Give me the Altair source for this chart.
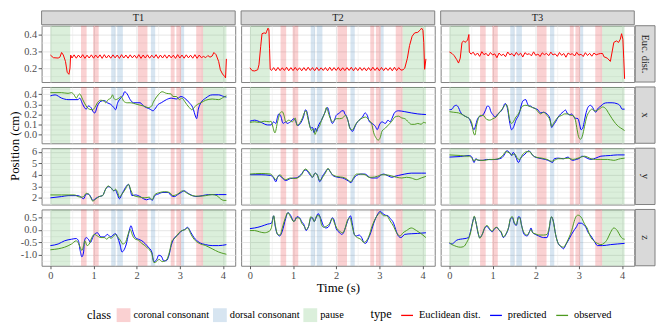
import altair as alt
import pandas as pd

FONT = "Liberation Serif"
W, H = 196, 57

TOKENS = ["T1", "T2", "T3"]
ROW_LABELS = ["Euc. dist.", "x", "y", "z"]
ROW_VARS = ["euc", "x", "y", "z"]

CLASSES = ["coronal consonant", "dorsal consonant", "pause"]
CLASS_COLORS = ["#E41A1C", "#377EB8", "#4DAF4A"]
TYPES = ["Euclidean dist.", "predicted", "observed"]
TYPE_COLORS = ["#FF0000", "#0000FF", "#4D9A1F"]

# phone-class intervals (s)
SEG_CLASS = ["pause", "coronal consonant", "coronal consonant", "dorsal consonant",
             "dorsal consonant", "coronal consonant", "dorsal consonant",
             "coronal consonant", "coronal consonant", "dorsal consonant",
             "coronal consonant", "pause"]
SEG_START = [0.00, 0.71, 0.99, 1.41, 1.55, 2.03, 2.33, 2.79, 2.92, 3.03, 3.38, 3.54]
SEG_END = [0.46, 0.84, 1.12, 1.51, 1.68, 2.25, 2.43, 2.88, 3.03, 3.10, 3.54, 4.08]
TOKEN_END = {"T1": 4.08, "T2": 4.08, "T3": 4.06}

# axis breaks
X_DOMAIN = [-0.204, 4.284]
X_MAJOR = [0, 1, 2, 3, 4]
X_MINOR = [0.5, 1.5, 2.5, 3.5]
Y_DOMAINS = [[0.117, 0.4525], [-0.084, 0.472], [1.42, 6.30], [-1.45, 0.82]]
Y_MAJOR = [[0.2, 0.3, 0.4], [0.0, 0.1, 0.2, 0.3, 0.4], [2, 3, 4, 5, 6], [-1.0, -0.5, 0.0, 0.5]]
Y_MINOR = [[0.15, 0.25, 0.35, 0.45], [-0.05, 0.05, 0.15, 0.25, 0.35, 0.45],
           [1.5, 2.5, 3.5, 4.5, 5.5], [-1.25, -0.75, -0.25, 0.25, 0.75]]
Y_FMT = [".1f", ".1f", "d", ".1f"]

# ---------------- Euclidean distance ----------------
MID_T = [0.50, 0.55, 0.60, 0.65, 0.70, 0.75, 0.80, 0.85, 0.90, 0.95,
         1.00, 1.05, 1.10, 1.15, 1.20, 1.25, 1.30, 1.35, 1.40, 1.45,
         1.50, 1.55, 1.60, 1.65, 1.70, 1.75, 1.80, 1.85, 1.90, 1.95,
         2.00, 2.05, 2.10, 2.15, 2.20, 2.25, 2.30, 2.35, 2.40, 2.45,
         2.50, 2.55, 2.60, 2.65, 2.70, 2.75, 2.80, 2.85, 2.90, 2.95,
         3.00, 3.05, 3.10, 3.15, 3.20, 3.25, 3.30, 3.35, 3.40, 3.45,
         3.50]

T1_EUC_START = [(0.00, 0.278), (0.07, 0.262), (0.18, 0.260), (0.22, 0.265), (0.26, 0.293),
                (0.30, 0.278), (0.35, 0.240), (0.39, 0.175), (0.43, 0.163), (0.455, 0.200),
                (0.47, 0.278)]
T1_EUC_MID = [0.260, 0.279, 0.259, 0.278, 0.261, 0.280, 0.258, 0.277, 0.260, 0.279,
              0.259, 0.278, 0.261, 0.279, 0.258, 0.280, 0.260, 0.277, 0.259, 0.279,
              0.261, 0.278, 0.258, 0.280, 0.260, 0.278, 0.259, 0.279, 0.261, 0.277,
              0.259, 0.280, 0.258, 0.278, 0.260, 0.279, 0.259, 0.277, 0.261, 0.280,
              0.258, 0.278, 0.260, 0.279, 0.259, 0.278, 0.261, 0.277, 0.258, 0.280,
              0.260, 0.278, 0.259, 0.279, 0.261, 0.277, 0.259, 0.280, 0.258, 0.278,
              0.262]
T1_EUC_END = [(3.55, 0.270), (3.60, 0.262), (3.65, 0.275), (3.70, 0.265), (3.75, 0.272),
              (3.79, 0.293), (3.84, 0.280), (3.90, 0.240), (3.94, 0.190), (3.99, 0.165),
              (4.04, 0.150), (4.06, 0.142), (4.08, 0.255)]

T2_EUC_START = [(0.00, 0.202), (0.05, 0.185), (0.11, 0.183), (0.18, 0.190), (0.21, 0.220),
                (0.25, 0.330), (0.28, 0.405), (0.33, 0.410), (0.37, 0.406), (0.39, 0.420),
                (0.42, 0.438), (0.44, 0.428), (0.455, 0.315), (0.47, 0.193)]
T2_EUC_MID = [0.186, 0.203, 0.184, 0.204, 0.185, 0.202, 0.186, 0.205, 0.184, 0.203,
              0.185, 0.204, 0.186, 0.202, 0.184, 0.203, 0.185, 0.205, 0.186, 0.203,
              0.184, 0.204, 0.185, 0.202, 0.186, 0.203, 0.184, 0.205, 0.185, 0.203,
              0.186, 0.204, 0.184, 0.202, 0.185, 0.203, 0.186, 0.205, 0.184, 0.203,
              0.185, 0.204, 0.186, 0.202, 0.184, 0.203, 0.185, 0.205, 0.186, 0.203,
              0.184, 0.204, 0.185, 0.202, 0.186, 0.203, 0.184, 0.205, 0.185, 0.203,
              0.188]
T2_EUC_END = [(3.55, 0.190), (3.59, 0.200), (3.65, 0.259), (3.70, 0.334), (3.76, 0.390),
              (3.82, 0.410), (3.89, 0.413), (3.95, 0.428), (3.98, 0.438), (4.01, 0.425),
              (4.03, 0.353), (4.05, 0.193), (4.08, 0.255)]

T3_EUC_START = [(0.00, 0.296), (0.06, 0.287), (0.11, 0.274), (0.17, 0.250), (0.21, 0.230),
                (0.25, 0.259), (0.29, 0.353), (0.33, 0.362), (0.36, 0.353), (0.40, 0.362),
                (0.42, 0.366), (0.45, 0.400), (0.46, 0.296)]
T3_EUC_MID = [0.283, 0.295, 0.276, 0.290, 0.270, 0.298, 0.280, 0.288, 0.272, 0.293,
              0.278, 0.285, 0.262, 0.290, 0.275, 0.283, 0.268, 0.296, 0.279, 0.287,
              0.271, 0.294, 0.277, 0.289, 0.266, 0.292, 0.281, 0.286, 0.273, 0.297,
              0.276, 0.284, 0.269, 0.291, 0.280, 0.288, 0.274, 0.295, 0.278, 0.285,
              0.270, 0.293, 0.276, 0.287, 0.265, 0.290, 0.281, 0.286, 0.272, 0.294,
              0.277, 0.283, 0.269, 0.292, 0.275, 0.288, 0.271, 0.290, 0.279, 0.284,
              0.287]
T3_EUC_END = [(3.55, 0.287), (3.58, 0.268), (3.66, 0.259), (3.73, 0.240), (3.77, 0.296),
              (3.81, 0.353), (3.87, 0.362), (3.92, 0.353), (3.96, 0.372), (3.99, 0.405),
              (4.02, 0.372), (4.04, 0.259), (4.06, 0.136)]

# ---------------- x ----------------
T1_X_PRED = [(0.00, 0.384), (0.11, 0.394), (0.26, 0.362), (0.41, 0.347), (0.64, 0.347), (0.68, 0.362),
             (0.75, 0.300), (0.83, 0.253), (0.88, 0.284), (0.94, 0.269), (1.00, 0.222), (1.03, 0.216),
             (1.09, 0.284), (1.17, 0.331), (1.25, 0.338), (1.32, 0.316), (1.40, 0.300), (1.47, 0.269),
             (1.51, 0.247), (1.56, 0.316), (1.63, 0.362), (1.69, 0.394), (1.72, 0.425), (1.78, 0.403),
             (1.85, 0.347), (1.93, 0.316), (2.08, 0.316), (2.16, 0.284), (2.31, 0.253), (2.38, 0.237),
             (2.42, 0.253), (2.50, 0.300), (2.57, 0.316), (2.69, 0.347), (2.80, 0.362), (2.92, 0.353),
             (3.03, 0.378), (3.11, 0.362), (3.22, 0.316), (3.30, 0.269), (3.37, 0.175), (3.39, 0.159),
             (3.43, 0.253), (3.49, 0.316), (3.60, 0.362), (3.75, 0.394), (3.90, 0.394), (4.02, 0.378),
             (4.08, 0.372)]
T1_X_OBS = [(0.00, 0.416), (0.26, 0.416), (0.41, 0.409), (0.49, 0.416), (0.55, 0.394), (0.60, 0.362),
            (0.65, 0.394), (0.68, 0.403), (0.75, 0.347), (0.83, 0.284), (0.90, 0.253), (0.98, 0.247),
            (1.03, 0.269), (1.09, 0.316), (1.17, 0.341), (1.25, 0.331), (1.28, 0.316), (1.34, 0.347),
            (1.40, 0.362), (1.44, 0.394), (1.47, 0.362), (1.51, 0.347), (1.59, 0.362), (1.64, 0.378),
            (1.70, 0.331), (1.78, 0.316), (1.85, 0.316), (2.01, 0.300), (2.16, 0.284), (2.27, 0.269),
            (2.35, 0.284), (2.38, 0.316), (2.42, 0.347), (2.50, 0.394), (2.59, 0.425), (2.69, 0.409),
            (2.80, 0.403), (2.84, 0.378), (2.92, 0.378), (2.99, 0.347), (3.05, 0.362), (3.11, 0.331),
            (3.16, 0.300), (3.22, 0.269), (3.28, 0.247), (3.33, 0.269), (3.41, 0.300), (3.49, 0.316),
            (3.60, 0.341), (3.75, 0.353), (3.90, 0.347), (4.02, 0.372), (4.08, 0.384)]
T2_X_PRED = [(0.00, 0.134), (0.11, 0.144), (0.26, 0.122), (0.41, 0.097), (0.49, 0.097), (0.55, 0.128),
             (0.60, 0.112), (0.64, 0.175), (0.67, 0.206), (0.71, 0.191), (0.77, 0.112), (0.83, 0.128),
             (0.86, 0.112), (0.94, 0.128), (1.02, 0.159), (1.05, 0.144), (1.11, 0.091), (1.17, 0.112),
             (1.24, 0.175), (1.29, 0.247), (1.32, 0.228), (1.36, 0.144), (1.41, 0.066), (1.45, 0.072),
             (1.49, 0.019), (1.52, 0.066), (1.55, 0.034), (1.58, 0.081), (1.66, 0.144), (1.74, 0.222),
             (1.80, 0.269), (1.85, 0.191), (1.91, 0.112), (1.96, 0.144), (2.00, 0.191), (2.08, 0.216),
             (2.13, 0.237), (2.17, 0.237), (2.20, 0.206), (2.23, 0.191), (2.27, 0.144), (2.32, 0.066),
             (2.38, 0.034), (2.42, 0.066), (2.47, 0.112), (2.53, 0.144), (2.61, 0.175), (2.67, 0.216),
             (2.72, 0.191), (2.77, 0.128), (2.83, 0.112), (2.91, 0.081), (2.95, 0.050), (3.00, 0.097),
             (3.06, 0.128), (3.14, 0.112), (3.20, 0.144), (3.25, 0.128), (3.29, 0.159), (3.36, 0.222),
             (3.44, 0.237), (3.59, 0.228), (3.74, 0.216), (3.89, 0.206), (4.08, 0.200)]
T2_X_OBS = [(0.00, 0.122), (0.11, 0.128), (0.22, 0.122), (0.33, 0.134), (0.45, 0.128), (0.49, 0.134),
            (0.52, 0.097), (0.58, 0.019), (0.64, 0.128), (0.71, 0.222), (0.75, 0.228), (0.79, 0.191),
            (0.83, 0.128), (0.90, 0.144), (0.98, 0.128), (1.02, 0.144), (1.05, 0.166), (1.09, 0.091),
            (1.13, 0.103), (1.21, 0.159), (1.26, 0.216), (1.30, 0.237), (1.33, 0.191), (1.38, 0.097),
            (1.43, 0.041), (1.47, 0.059), (1.51, 0.003), (1.55, 0.050), (1.61, 0.081), (1.66, 0.144),
            (1.74, 0.222), (1.77, 0.269), (1.85, 0.175), (1.91, 0.128), (1.96, 0.144), (2.00, 0.159),
            (2.08, 0.159), (2.15, 0.166), (2.21, 0.191), (2.27, 0.144), (2.32, 0.059), (2.38, 0.050),
            (2.45, 0.103), (2.53, 0.144), (2.61, 0.166), (2.68, 0.175), (2.76, 0.144), (2.82, 0.112),
            (2.87, 0.019), (2.92, -0.028), (2.97, -0.053), (3.02, -0.028), (3.06, 0.034), (3.14, 0.066),
            (3.21, 0.097), (3.29, 0.134), (3.36, 0.175), (3.44, 0.184), (3.52, 0.166), (3.59, 0.159),
            (3.67, 0.128), (3.74, 0.103), (3.82, 0.103), (3.89, 0.112), (3.97, 0.103), (4.02, 0.122),
            (4.08, 0.116)]
T3_X_PRED = [(0.00, 0.247), (0.06, 0.253), (0.11, 0.284), (0.16, 0.291), (0.21, 0.269), (0.25, 0.228),
             (0.33, 0.191), (0.40, 0.175), (0.46, 0.159), (0.49, 0.128), (0.53, 0.081), (0.57, 0.050),
             (0.61, 0.097), (0.64, 0.144), (0.68, 0.175), (0.72, 0.184), (0.78, 0.197), (0.83, 0.237),
             (0.88, 0.284), (0.92, 0.278), (0.96, 0.228), (1.01, 0.197), (1.06, 0.175), (1.12, 0.206),
             (1.17, 0.222), (1.23, 0.253), (1.29, 0.309), (1.33, 0.284), (1.36, 0.222), (1.40, 0.112),
             (1.44, 0.050), (1.49, 0.081), (1.54, 0.144), (1.60, 0.191), (1.63, 0.228), (1.66, 0.284),
             (1.71, 0.338), (1.77, 0.347), (1.80, 0.316), (1.84, 0.284), (1.88, 0.284), (1.93, 0.269),
             (1.99, 0.259), (2.05, 0.247), (2.11, 0.216), (2.18, 0.222), (2.26, 0.206), (2.33, 0.159),
             (2.37, 0.072), (2.41, 0.097), (2.46, 0.128), (2.52, 0.175), (2.58, 0.206), (2.64, 0.228),
             (2.69, 0.244), (2.74, 0.206), (2.79, 0.197), (2.83, 0.206), (2.86, 0.191), (2.90, 0.166),
             (2.98, 0.159), (3.02, 0.097), (3.05, 0.050), (3.09, 0.066), (3.13, 0.144), (3.17, 0.222),
             (3.22, 0.278), (3.27, 0.291), (3.32, 0.269), (3.36, 0.237), (3.39, 0.222), (3.43, 0.253),
             (3.51, 0.284), (3.58, 0.309), (3.66, 0.316), (3.77, 0.316), (3.89, 0.306), (3.96, 0.284),
             (4.00, 0.253), (4.06, 0.253)]
T3_X_OBS = [(0.00, 0.228), (0.10, 0.222), (0.21, 0.216), (0.33, 0.191), (0.40, 0.175), (0.46, 0.159),
            (0.52, 0.112), (0.55, 0.034), (0.59, -0.003), (0.63, 0.097), (0.67, 0.159), (0.71, 0.191),
            (0.78, 0.191), (0.86, 0.153), (0.93, 0.144), (1.01, 0.159), (1.08, 0.175), (1.16, 0.222),
            (1.22, 0.253), (1.27, 0.284), (1.31, 0.300), (1.35, 0.269), (1.39, 0.159), (1.44, 0.112),
            (1.48, 0.128), (1.54, 0.175), (1.60, 0.206), (1.65, 0.253), (1.70, 0.284), (1.77, 0.291),
            (1.84, 0.284), (1.92, 0.269), (1.99, 0.259), (2.05, 0.228), (2.11, 0.206), (2.18, 0.222),
            (2.26, 0.191), (2.33, 0.144), (2.37, 0.081), (2.41, 0.112), (2.46, 0.144), (2.52, 0.175),
            (2.60, 0.191), (2.67, 0.206), (2.75, 0.206), (2.81, 0.191), (2.86, 0.191), (2.92, 0.144),
            (2.96, 0.050), (3.00, -0.028), (3.04, -0.044), (3.08, -0.013), (3.13, 0.081), (3.18, 0.175),
            (3.24, 0.228), (3.30, 0.253), (3.36, 0.237), (3.39, 0.237), (3.47, 0.253), (3.55, 0.275),
            (3.62, 0.259), (3.70, 0.206), (3.77, 0.159), (3.85, 0.112), (3.92, 0.081), (4.00, 0.059),
            (4.06, 0.041)]

# ---------------- y ----------------
T1_Y_PRED = [(0.00, 2.00), (0.26, 2.11), (0.41, 2.19), (0.64, 2.19), (0.71, 2.06), (0.77, 1.92),
             (0.83, 2.33), (0.88, 2.33), (0.94, 2.06), (0.98, 1.78), (1.06, 1.97), (1.13, 2.11),
             (1.21, 2.19), (1.28, 2.75), (1.34, 2.97), (1.40, 2.89), (1.47, 2.61), (1.51, 2.67),
             (1.55, 2.33), (1.60, 1.92), (1.66, 2.33), (1.74, 2.89), (1.81, 3.17), (1.85, 2.75),
             (1.89, 2.19), (1.97, 2.25), (2.08, 2.11), (2.16, 1.92), (2.23, 1.83), (2.31, 1.92),
             (2.36, 1.78), (2.42, 2.19), (2.50, 2.33), (2.61, 2.47), (2.73, 2.47), (2.80, 2.19),
             (2.88, 2.11), (2.95, 2.28), (3.03, 2.47), (3.11, 2.61), (3.16, 2.47), (3.26, 2.25),
             (3.37, 2.11), (3.52, 2.19), (3.67, 2.28), (3.90, 2.28), (4.08, 2.28)]
T1_Y_OBS = [(0.00, 2.25), (0.26, 2.25), (0.41, 2.25), (0.56, 2.25), (0.64, 2.11), (0.71, 2.06),
            (0.77, 2.11), (0.83, 2.39), (0.88, 2.33), (0.94, 2.00), (0.98, 1.72), (1.06, 1.92),
            (1.13, 2.11), (1.21, 2.19), (1.28, 2.75), (1.34, 3.03), (1.40, 2.89), (1.47, 2.61),
            (1.51, 2.75), (1.56, 2.47), (1.60, 2.06), (1.66, 2.33), (1.74, 2.75), (1.81, 3.17),
            (1.87, 2.61), (1.93, 2.19), (2.08, 2.06), (2.19, 2.00), (2.29, 2.06), (2.36, 1.83),
            (2.42, 2.28), (2.54, 2.47), (2.65, 2.53), (2.76, 2.47), (2.84, 2.19), (2.95, 2.33),
            (3.07, 2.61), (3.14, 2.47), (3.29, 2.19), (3.44, 2.14), (3.60, 2.19), (3.75, 2.28),
            (3.86, 2.19), (3.94, 1.92), (4.02, 1.78), (4.08, 1.78)]
T2_Y_PRED = [(0.00, 4.00), (0.26, 4.00), (0.48, 3.94), (0.55, 3.72), (0.60, 3.39), (0.64, 3.78),
             (0.67, 3.94), (0.75, 3.72), (0.83, 3.50), (0.94, 3.67), (1.05, 3.72), (1.11, 3.78),
             (1.18, 4.00), (1.28, 4.42), (1.33, 4.33), (1.39, 4.00), (1.45, 3.78), (1.51, 4.14),
             (1.56, 4.00), (1.62, 3.39), (1.68, 3.86), (1.73, 4.14), (1.81, 4.50), (1.86, 4.28),
             (1.92, 3.94), (2.04, 3.78), (2.15, 3.72), (2.23, 3.58), (2.29, 3.44), (2.34, 3.31),
             (2.39, 3.58), (2.47, 3.94), (2.57, 4.06), (2.67, 4.06), (2.72, 3.94), (2.77, 3.78),
             (2.83, 3.72), (2.95, 3.72), (3.02, 3.94), (3.10, 4.06), (3.15, 4.00), (3.21, 3.89),
             (3.29, 3.78), (3.36, 3.86), (3.44, 3.94), (3.59, 4.06), (3.74, 4.14), (3.97, 4.14),
             (4.08, 4.14)]
T2_Y_OBS = [(0.00, 4.06), (0.26, 4.11), (0.48, 4.06), (0.55, 3.78), (0.60, 3.58), (0.64, 3.78),
            (0.70, 4.00), (0.75, 3.78), (0.83, 3.58), (0.94, 3.72), (1.05, 3.67), (1.13, 3.78),
            (1.20, 4.00), (1.28, 4.50), (1.36, 4.28), (1.41, 4.00), (1.45, 3.78), (1.51, 4.14),
            (1.56, 4.00), (1.62, 3.50), (1.70, 3.86), (1.76, 4.22), (1.81, 4.56), (1.87, 4.22),
            (1.92, 4.00), (2.04, 3.83), (2.15, 3.78), (2.23, 3.67), (2.29, 3.50), (2.34, 3.39),
            (2.39, 3.67), (2.47, 4.06), (2.57, 4.06), (2.67, 4.00), (2.76, 3.78), (2.83, 3.78),
            (2.95, 3.86), (3.05, 4.00), (3.14, 4.00), (3.29, 3.89), (3.40, 3.78), (3.52, 3.72),
            (3.63, 3.78), (3.74, 3.72), (3.86, 3.58), (3.97, 3.72), (4.08, 3.86)]
T3_Y_PRED = [(0.00, 5.53), (0.25, 5.58), (0.46, 5.67), (0.52, 5.53), (0.57, 5.06), (0.61, 5.39),
             (0.67, 5.25), (0.78, 5.25), (0.86, 5.33), (0.97, 5.31), (1.08, 5.33), (1.20, 5.44),
             (1.27, 5.72), (1.33, 6.08), (1.39, 5.94), (1.44, 5.67), (1.48, 5.94), (1.54, 5.53),
             (1.60, 5.06), (1.65, 5.44), (1.73, 5.72), (1.79, 5.94), (1.84, 6.08), (1.89, 5.89),
             (1.95, 5.61), (2.07, 5.44), (2.22, 5.33), (2.33, 5.17), (2.39, 5.06), (2.43, 5.39),
             (2.52, 5.44), (2.64, 5.39), (2.75, 5.53), (2.81, 5.33), (2.86, 5.25), (2.94, 5.33),
             (3.02, 5.44), (3.07, 5.61), (3.13, 5.56), (3.19, 5.44), (3.28, 5.33), (3.39, 5.44),
             (3.51, 5.61), (3.73, 5.67), (3.89, 5.72), (4.06, 5.72)]
T3_Y_OBS = [(0.00, 5.72), (0.25, 5.67), (0.40, 5.61), (0.46, 5.61), (0.52, 5.44), (0.57, 5.17),
            (0.61, 5.33), (0.70, 5.25), (0.82, 5.25), (0.93, 5.33), (1.05, 5.33), (1.16, 5.44),
            (1.235, 5.67), (1.31, 6.00), (1.39, 5.89), (1.46, 5.72), (1.51, 5.81), (1.58, 5.39),
            (1.63, 5.33), (1.69, 5.72), (1.80, 6.00), (1.86, 6.00), (1.92, 5.72), (2.03, 5.50),
            (2.14, 5.44), (2.26, 5.33), (2.37, 5.17), (2.43, 5.25), (2.52, 5.39), (2.64, 5.39),
            (2.75, 5.44), (2.86, 5.33), (2.98, 5.44), (3.05, 5.53), (3.13, 5.61), (3.20, 5.53),
            (3.28, 5.39), (3.39, 5.33), (3.51, 5.33), (3.66, 5.33), (3.81, 5.25), (3.96, 5.39),
            (4.06, 5.44)]

# ---------------- z ----------------
T1_Z_PRED = [(0.00, -0.637), (0.18, -0.572), (0.33, -0.443), (0.49, -0.379), (0.60, -0.353), (0.65, -0.443),
             (0.69, -0.831), (0.73, -1.089), (0.77, -0.895), (0.79, -0.443), (0.83, -0.314), (0.88, -0.379),
             (0.93, -0.508), (0.98, -0.314), (1.02, -0.185), (1.09, -0.120), (1.17, -0.288), (1.25, -0.288),
             (1.32, -0.185), (1.40, -0.288), (1.47, -0.185), (1.51, -0.159), (1.56, -0.314), (1.61, -0.572),
             (1.66, -0.895), (1.70, -0.831), (1.76, -0.572), (1.81, -0.185), (1.87, 0.164), (1.91, -0.056),
             (1.97, -0.314), (2.04, -0.379), (2.12, -0.443), (2.19, -0.547), (2.27, -0.702), (2.35, -0.895),
             (2.40, -1.283), (2.46, -1.218), (2.51, -1.025), (2.57, -1.063), (2.63, -1.257), (2.69, -1.244),
             (2.75, -1.025), (2.80, -0.637), (2.88, -0.314), (2.95, -0.211), (3.03, -0.056), (3.11, 0.009),
             (3.18, 0.100), (3.26, -0.120), (3.33, -0.314), (3.45, -0.508), (3.60, -0.598), (3.75, -0.637),
             (3.90, -0.637), (4.08, -0.598)]
T1_Z_OBS = [(0.00, -0.805), (0.18, -0.766), (0.33, -0.702), (0.49, -0.572), (0.60, -0.443), (0.65, -0.547),
            (0.69, -0.702), (0.73, -0.831), (0.77, -0.637), (0.80, -0.443), (0.85, -0.637), (0.90, -0.572),
            (0.96, -0.314), (1.02, -0.185), (1.09, -0.249), (1.17, -0.314), (1.25, -0.314), (1.31, -0.379),
            (1.36, -0.288), (1.40, -0.340), (1.47, -0.249), (1.51, -0.185), (1.56, -0.288), (1.62, -0.417),
            (1.68, -0.572), (1.74, -0.508), (1.79, -0.249), (1.85, 0.009), (1.91, -0.249), (1.97, -0.379),
            (2.04, -0.417), (2.12, -0.547), (2.19, -0.637), (2.27, -0.766), (2.35, -0.960), (2.40, -1.322),
            (2.46, -1.283), (2.52, -1.192), (2.59, -1.283), (2.69, -1.218), (2.76, -0.895), (2.82, -0.443),
            (2.90, -0.314), (2.98, -0.120), (3.05, -0.030), (3.13, 0.009), (3.18, 0.074), (3.26, -0.185),
            (3.33, -0.379), (3.45, -0.547), (3.60, -0.637), (3.75, -0.766), (3.90, -0.895), (4.02, -0.960),
            (4.08, -0.986)]
T2_Z_PRED = [(0.00, 0.048), (0.11, 0.074), (0.26, 0.138), (0.41, 0.229), (0.50, 0.267), (0.55, 0.565),
             (0.58, 0.203), (0.64, -0.185), (0.69, -0.249), (0.75, -0.056), (0.83, 0.461), (0.88, 0.694),
             (0.94, 0.590), (1.02, 0.332), (1.09, 0.526), (1.15, 0.487), (1.20, 0.332), (1.26, 0.177),
             (1.30, -0.030), (1.36, 0.138), (1.41, 0.461), (1.45, 0.487), (1.49, 0.332), (1.53, 0.461),
             (1.58, 0.655), (1.64, 0.461), (1.70, 0.177), (1.76, 0.074), (1.81, 0.100), (1.86, 0.267),
             (1.91, 0.487), (1.95, 0.397), (2.00, 0.048), (2.08, -0.120), (2.13, -0.185), (2.17, -0.120),
             (2.23, 0.177), (2.29, 0.461), (2.33, 0.565), (2.38, 0.177), (2.42, -0.185), (2.47, -0.249),
             (2.53, -0.211), (2.59, -0.314), (2.64, -0.508), (2.68, -0.547), (2.74, -0.379), (2.80, -0.120),
             (2.87, 0.267), (2.95, 0.590), (3.02, 0.745), (3.08, 0.655), (3.14, 0.590), (3.20, 0.565),
             (3.25, 0.461), (3.33, 0.267), (3.38, 0.009), (3.44, -0.249), (3.50, -0.314), (3.59, -0.185),
             (3.74, -0.159), (3.89, -0.146), (4.08, -0.120)]
T2_Z_OBS = [(0.00, -0.030), (0.11, -0.030), (0.22, -0.081), (0.33, -0.120), (0.45, -0.056), (0.50, 0.100),
            (0.55, 0.565), (0.59, 0.177), (0.64, -0.185), (0.70, -0.211), (0.75, 0.074), (0.83, 0.526),
            (0.88, 0.694), (0.94, 0.526), (1.02, 0.332), (1.09, 0.487), (1.15, 0.461), (1.20, 0.267),
            (1.26, 0.138), (1.30, 0.009), (1.36, 0.138), (1.41, 0.526), (1.45, 0.461), (1.49, 0.332),
            (1.55, 0.565), (1.61, 0.565), (1.66, 0.203), (1.71, 0.100), (1.77, 0.138), (1.85, 0.267),
            (1.91, 0.461), (1.96, 0.267), (2.02, 0.048), (2.08, -0.056), (2.15, -0.120), (2.21, 0.074),
            (2.26, 0.383), (2.32, 0.487), (2.36, 0.229), (2.42, -0.185), (2.49, -0.314), (2.57, -0.379),
            (2.64, -0.508), (2.70, -0.443), (2.76, -0.249), (2.83, 0.138), (2.91, 0.461), (2.97, 0.616),
            (3.02, 0.694), (3.10, 0.565), (3.17, 0.565), (3.25, 0.358), (3.33, 0.138), (3.40, -0.120),
            (3.48, -0.249), (3.55, -0.120), (3.63, -0.030), (3.74, 0.074), (3.86, -0.030), (3.97, -0.159),
            (4.08, -0.314)]
T3_Z_PRED = [(0.00, -0.547), (0.06, -0.572), (0.11, -0.508), (0.17, -0.417), (0.25, -0.379), (0.36, -0.353),
             (0.44, -0.314), (0.49, -0.056), (0.54, 0.332), (0.575, 0.526), (0.61, 0.332), (0.67, -0.185),
             (0.70, -0.314), (0.76, -0.185), (0.82, 0.074), (0.87, 0.138), (0.93, 0.009), (0.99, -0.081),
             (1.05, 0.048), (1.10, 0.100), (1.14, 0.009), (1.20, -0.120), (1.25, -0.314), (1.31, -0.185),
             (1.37, 0.074), (1.42, 0.461), (1.46, 0.487), (1.50, 0.267), (1.55, 0.177), (1.60, 0.526),
             (1.63, 0.513), (1.67, 0.203), (1.73, -0.185), (1.80, -0.249), (1.86, -0.056), (1.89, 0.074),
             (1.93, -0.120), (1.99, -0.185), (2.07, -0.249), (2.18, -0.314), (2.26, -0.314), (2.31, 0.009),
             (2.35, 0.461), (2.37, 0.513), (2.41, 0.332), (2.46, -0.185), (2.52, -0.547), (2.60, -0.702),
             (2.64, -0.766), (2.70, -0.598), (2.77, -0.379), (2.83, -0.185), (2.90, 0.009), (2.95, 0.138),
             (2.99, 0.267), (3.05, 0.267), (3.11, 0.203), (3.17, 0.074), (3.20, -0.056), (3.28, -0.249),
             (3.36, -0.469), (3.43, -0.637), (3.55, -0.637), (3.73, -0.598), (3.89, -0.572), (4.06, -0.547)]
T3_Z_OBS = [(0.00, -0.508), (0.06, -0.598), (0.11, -0.637), (0.17, -0.676), (0.25, -0.702), (0.33, -0.676),
            (0.40, -0.508), (0.48, -0.185), (0.54, 0.306), (0.575, 0.552), (0.61, 0.332), (0.67, -0.159),
            (0.70, -0.340), (0.76, -0.185), (0.82, 0.100), (0.87, 0.177), (0.93, 0.048), (0.99, -0.056),
            (1.05, 0.074), (1.10, 0.100), (1.14, 0.009), (1.20, -0.081), (1.25, -0.288), (1.31, -0.159),
            (1.37, 0.100), (1.42, 0.487), (1.46, 0.526), (1.50, 0.306), (1.55, 0.203), (1.60, 0.487),
            (1.63, 0.487), (1.67, 0.177), (1.73, -0.120), (1.80, -0.211), (1.86, -0.056), (1.89, 0.009),
            (1.93, -0.120), (1.99, -0.159), (2.07, -0.211), (2.18, -0.211), (2.26, -0.185), (2.31, 0.074),
            (2.35, 0.487), (2.37, 0.526), (2.41, 0.306), (2.46, -0.185), (2.52, -0.547), (2.60, -0.676),
            (2.64, -0.702), (2.70, -0.572), (2.77, -0.314), (2.83, -0.056), (2.88, 0.267), (2.93, 0.526),
            (2.98, 0.590), (3.02, 0.565), (3.07, 0.461), (3.13, 0.229), (3.19, 0.074), (3.26, -0.249),
            (3.36, -0.469), (3.43, -0.547), (3.51, -0.598), (3.58, -0.547), (3.66, -0.379), (3.73, -0.120),
            (3.81, 0.074), (3.89, -0.030), (3.96, -0.249), (4.01, -0.353), (4.06, -0.379)]

EUC = {"T1": (T1_EUC_START, T1_EUC_MID, T1_EUC_END),
       "T2": (T2_EUC_START, T2_EUC_MID, T2_EUC_END),
       "T3": (T3_EUC_START, T3_EUC_MID, T3_EUC_END)}
POS = {("T1", "x"): (T1_X_PRED, T1_X_OBS), ("T2", "x"): (T2_X_PRED, T2_X_OBS), ("T3", "x"): (T3_X_PRED, T3_X_OBS),
       ("T1", "y"): (T1_Y_PRED, T1_Y_OBS), ("T2", "y"): (T2_Y_PRED, T2_Y_OBS), ("T3", "y"): (T3_Y_PRED, T3_Y_OBS),
       ("T1", "z"): (T1_Z_PRED, T1_Z_OBS), ("T2", "z"): (T2_Z_PRED, T2_Z_OBS), ("T3", "z"): (T3_Z_PRED, T3_Z_OBS)}

# ---------------- build tables ----------------
series = {}
for tok, (s, m, e) in EUC.items():
    pts = list(s) + list(zip(MID_T, m)) + list(e)
    series[(tok, "euc", "Euclidean dist.")] = pd.DataFrame(
        {"t": [p[0] for p in pts], "v": [p[1] for p in pts], "type": "Euclidean dist."})
for (tok, var), (pred, obs) in POS.items():
    series[(tok, var, "predicted")] = pd.DataFrame(
        {"t": [p[0] for p in pred], "v": [p[1] for p in pred], "type": "predicted"})
    series[(tok, var, "observed")] = pd.DataFrame(
        {"t": [p[0] for p in obs], "v": [p[1] for p in obs], "type": "observed"})

shades = {}
for tok in TOKENS:
    ends = list(SEG_END)
    ends[-1] = TOKEN_END[tok]
    shades[tok] = pd.DataFrame({"class": SEG_CLASS, "start": SEG_START, "end": ends})

GRID = "#E6E6E6"
AXIS_GREY = "#4D4D4D"


def cond(test, a, b):
    return {"condition": {"test": test, "value": a}, "value": b}


def x_axis(ri, ci):
    maj = f"indexof({X_MAJOR}, datum.value) >= 0"
    kw = dict(values=sorted(X_MAJOR + X_MINOR), grid=True, domain=False,
              gridColor=GRID, gridWidth=cond(maj, 1.0, 0.5),
              labels=(ri == 3), ticks=(ri == 3),
              tickOpacity=cond(maj, 1, 0), tickSize=3, tickColor="#333333", tickWidth=0.8,
              labelExpr=f"{maj} ? format(datum.value, 'd') : ''",
              labelFont=FONT, labelFontSize=10.5, labelColor=AXIS_GREY, labelPadding=1.5,
              labelOverlap=False, labelFlush=False)
    if ri == 3 and ci == 1:
        kw.update(title="Time (s)", titleFont=FONT, titleFontSize=13, titleFontWeight="normal",
                  titleColor="black", titlePadding=1)
    else:
        kw.update(title=None)
    return alt.Axis(**kw)


def y_axis(ri, ci):
    maj = f"indexof({Y_MAJOR[ri]}, datum.value) >= 0"
    kw = dict(values=sorted(Y_MAJOR[ri] + Y_MINOR[ri]), grid=True, domain=False,
              gridColor=GRID, gridWidth=cond(maj, 1.0, 0.5),
              labels=(ci == 0), ticks=(ci == 0),
              tickOpacity=cond(maj, 1, 0), tickSize=3.5, tickColor="#333333", tickWidth=0.8,
              labelExpr=f"{maj} ? replace(format(datum.value, '{Y_FMT[ri]}'), '\u2212', '-') : ''",
              labelFont=FONT, labelFontSize=10.5, labelColor=AXIS_GREY, labelPadding=1.5,
              labelOverlap=False, labelFlush=False)
    if ri == 1 and ci == 0:
        kw.update(title="Position (cm)", titleFont=FONT, titleFontSize=13, titleFontWeight="normal",
                  titleColor="black", titleAngle=270, titleX=-27, titleY=H + 2.5,
                  titleAlign="center", titleBaseline="middle")
    else:
        kw.update(title=None)
    return alt.Axis(**kw)


class_legend = alt.Legend(title="class", orient="none", legendX=46, legendY=286,
                          direction="horizontal", titleOrient="left",
                          titleFont=FONT, titleFontSize=12.5, titleFontWeight="normal",
                          titleColor="black", titlePadding=5,
                          labelFont=FONT, labelFontSize=10.5, labelColor="black", labelOffset=3,
                          symbolType="square", symbolSize=196, symbolStrokeWidth=0,
                          columnPadding=3.5)
type_legend = alt.Legend(title="type", orient="none", legendX=333, legendY=286,
                         direction="horizontal", titleOrient="left",
                         titleFont=FONT, titleFontSize=12.5, titleFontWeight="normal",
                         titleColor="black", titlePadding=8,
                         labelFont=FONT, labelFontSize=10.5, labelColor="black", labelOffset=5,
                         symbolType="stroke", symbolSize=144, symbolStrokeWidth=1.3,
                         columnPadding=6)


def cell(ri, ci):
    tok = TOKENS[ci]
    var = ROW_VARS[ri]
    xs = alt.Scale(domain=X_DOMAIN, nice=False, zero=False)
    ys = alt.Scale(domain=Y_DOMAINS[ri], nice=False, zero=False)
    xa = x_axis(ri, ci)
    ya = y_axis(ri, ci)

    layers = [
        alt.Chart(shades[tok]).mark_rect(opacity=0.2).encode(
            x=alt.X("start:Q", scale=xs, axis=xa),
            x2="end:Q",
            y=alt.value(0), y2=alt.value(H),
            fill=alt.Fill("class:N", scale=alt.Scale(domain=CLASSES, range=CLASS_COLORS),
                          legend=class_legend),
        )
    ]
    types = ["Euclidean dist."] if var == "euc" else ["predicted", "observed"]
    for typ in types:
        layers.append(
            alt.Chart(series[(tok, var, typ)]).mark_line(
                strokeWidth=1, interpolate=("linear" if var == "euc" else "monotone")
            ).encode(
                x=alt.X("t:Q", scale=xs, axis=xa),
                y=alt.Y("v:Q", scale=ys, axis=ya),
                stroke=alt.Stroke("type:N", scale=alt.Scale(domain=TYPES, range=TYPE_COLORS),
                                  legend=type_legend),
            )
        )
    if ri == 0:
        lab = pd.DataFrame({"label": [tok]})
        layers.append(alt.Chart(lab).mark_rect(fill="#D9D9D9", stroke="#7F7F7F", strokeWidth=1).encode(
            x=alt.value(0), x2=alt.value(W), y=alt.value(-15), y2=alt.value(-1)))
        layers.append(alt.Chart(lab).mark_text(font=FONT, fontSize=10.5, color="#1A1A1A",
                                               align="center", baseline="middle").encode(
            x=alt.value(W / 2), y=alt.value(-8), text="label:N"))
    if ci == 2:
        lab = pd.DataFrame({"label": [ROW_LABELS[ri]]})
        layers.append(alt.Chart(lab).mark_rect(fill="#D9D9D9", stroke="#7F7F7F", strokeWidth=1).encode(
            x=alt.value(W + 1), x2=alt.value(W + 21), y=alt.value(0), y2=alt.value(H)))
        layers.append(alt.Chart(lab).mark_text(font=FONT, fontSize=10.5, color="#1A1A1A", angle=90,
                                               align="center", baseline="middle").encode(
            x=alt.value(W + 11), y=alt.value(H / 2), text="label:N"))
    return alt.layer(*layers).properties(width=W, height=H)


cells = [cell(ri, ci) for ri in range(4) for ci in range(3)]

chart = alt.concat(*cells, columns=3, spacing={"row": 5, "column": 6}, bounds="flush").properties(
    padding=0
).configure_view(stroke="#808080", strokeWidth=1)

chart.save("out.html", embed_options={"renderer": "svg", "actions": False})
